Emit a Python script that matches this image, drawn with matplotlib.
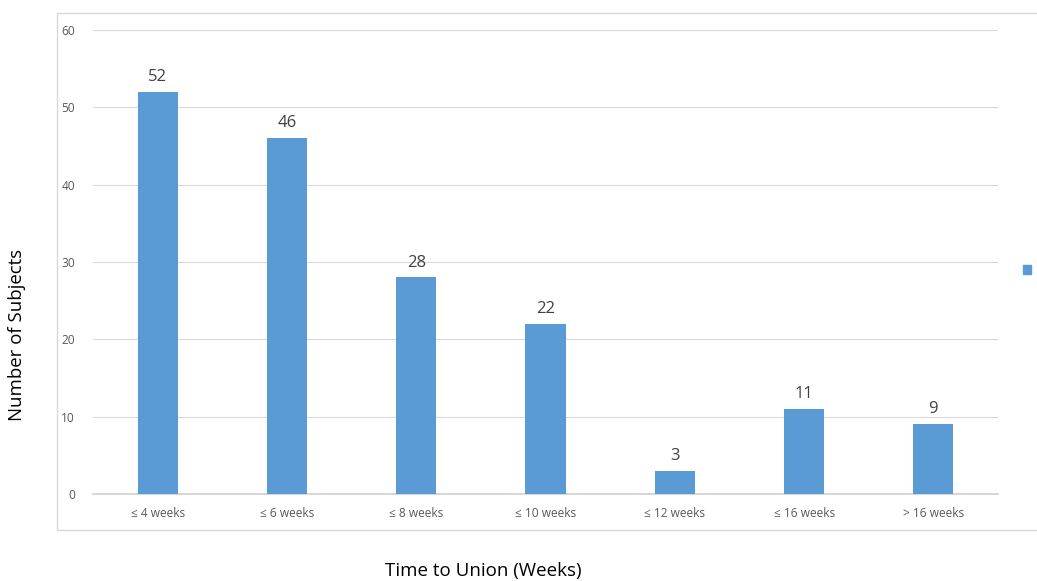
import matplotlib.pyplot as plt
from matplotlib.patches import Rectangle, Patch

plt.rcParams['font.family'] = ['Open Sans', 'DejaVu Sans']

categories = ['≤ 4 weeks', '≤ 6 weeks', '≤ 8 weeks', '≤ 10 weeks', '≤ 12 weeks', '≤ 16 weeks', '> 16 weeks']
subjects = [52, 46, 28, 22, 3, 11, 9]
yticks = [0, 10, 20, 30, 40, 50, 60]

bar_color = '#5B9BD5'
grid_color = '#D9D9D9'

fig = plt.figure(figsize=(10.37, 5.81), dpi=100)
ax = fig.add_axes([0.0897, 0.1497, 0.8727, 0.7987])

x = range(len(categories))
bars = ax.bar(x, subjects, width=0.31, color=bar_color, zorder=3)
for b, v in zip(bars, subjects):
    ax.annotate(str(v), (b.get_x() + b.get_width() / 2, v), xytext=(0, 5),
                textcoords='offset points', ha='center', va='bottom',
                fontsize=12, color='#404040')

ax.set_xlim(-0.5, len(categories) - 0.5)
ax.set_ylim(0, 60)
ax.set_yticks(yticks)
ax.set_xticks(list(x))
ax.set_xticklabels(categories)
ax.tick_params(axis='both', length=0, labelsize=8.6, colors='#595959')
ax.tick_params(axis='y', pad=13)
ax.tick_params(axis='x', pad=9)
ax.grid(axis='y', color=grid_color, linewidth=0.8, zorder=0)
for side in ['top', 'right', 'left']:
    ax.spines[side].set_visible(False)
ax.spines['bottom'].set_color('#D0D0D0')
ax.spines['bottom'].set_linewidth(1.2)

# chart area outline
fig.patches.append(Rectangle((57 / 1037, 1 - 530 / 581), 1.1, (530 - 13) / 581,
                             transform=fig.transFigure, fill=False,
                             edgecolor=grid_color, linewidth=1.0))

fig.text(483 / 1037, 1 - 571 / 581, 'Time to Union (Weeks)', ha='center', va='center',
         fontsize=13.5, color='#000000')
fig.text(17 / 1037, 1 - 335 / 581, 'Number of Subjects', ha='center', va='center',
         rotation=90, fontsize=13.4, color='#000000')

fig.legend(handles=[Patch(color=bar_color)], labels=[''], loc='center',
           bbox_to_anchor=(1027 / 1037, 1 - 271 / 581), frameon=False,
           handlelength=0.55, handleheight=0.55, handletextpad=0)

fig.savefig('out.png', dpi=100)
